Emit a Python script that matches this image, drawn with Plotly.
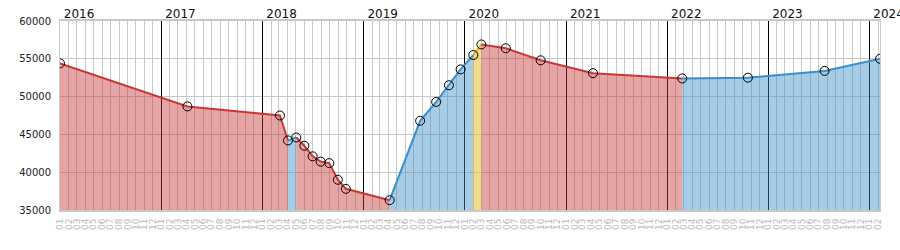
import plotly.graph_objects as go

# ---- data ----
dates = ["2016-01-01", "2017-04-05", "2018-03-05", "2018-04-03", "2018-05-03",
         "2018-06-01", "2018-07-01", "2018-07-30", "2018-08-30", "2018-09-30",
         "2018-10-29", "2019-04-05", "2019-07-24", "2019-09-20", "2019-11-05",
         "2019-12-17", "2020-02-01", "2020-03-01", "2020-05-28", "2020-10-01",
         "2021-04-08", "2022-02-24", "2022-10-19", "2023-07-23", "2024-02-08"]
values = [54400, 48700, 47500, 44200, 44600,
          43500, 42100, 41400, 41200, 39000,
          37800, 36300, 46800, 49300, 51500,
          53600, 55500, 56900, 56400, 54800,
          53100, 52400, 52500, 53400, 55000]
# trend of each interval between consecutive points
trend = ["down", "down", "down", "up", "down",
         "down", "down", "down", "down", "down",
         "down", "up", "up", "up", "up",
         "up", "peak", "down", "down", "down",
         "down", "up", "up", "up"]
year_ticks = ["2016-01-01", "2017-01-01", "2018-01-01", "2019-01-01", "2020-01-01",
              "2021-01-01", "2022-01-01", "2023-01-01", "2024-01-01"]
year_labels = ["2016", "2017", "2018", "2019", "2020", "2021", "2022", "2023", "2024"]
y_ticks = [35000, 40000, 45000, 50000, 55000, 60000]
y_labels = ["35000", "40000", "45000", "50000", "55000", "60000"]

# ---- styles ----
line_col = {"down": "#c83737", "up": "#3a8fc8", "peak": "#e8b82a"}
fill_col = {"down": "rgba(200,55,55,0.45)", "up": "rgba(58,143,200,0.45)",
            "peak": "rgba(232,190,40,0.55)"}
grid = "#c8c8c8"
font = "DejaVu Sans"

fig = go.Figure()

# group consecutive intervals with same trend
start = 0
for i in range(1, len(trend) + 1):
    if i == len(trend) or trend[i] != trend[start]:
        t = trend[start]
        fig.add_trace(go.Scatter(
            x=dates[start:i + 1], y=values[start:i + 1],
            mode="lines", fill="tozeroy",
            line=dict(color=line_col[t], width=2),
            fillcolor=fill_col[t], hoverinfo="skip", showlegend=False))
        start = i

fig.add_trace(go.Scatter(
    x=dates, y=values, mode="markers",
    marker=dict(symbol="circle-open", size=9, color="black", line=dict(width=1)),
    showlegend=False))

# invisible trace for top axis
fig.add_trace(go.Scatter(x=[dates[0], dates[-1]], y=[values[0], values[-1]],
                         xaxis="x2", mode="markers", marker=dict(opacity=0),
                         hoverinfo="skip", showlegend=False))

fig.update_layout(
    width=900, height=250,
    margin=dict(l=60, r=20, t=21, b=40),
    paper_bgcolor="white", plot_bgcolor="white",
    font=dict(family=font, size=10, color="#222"),
    xaxis=dict(
        type="date", range=[dates[0], dates[-1]],
        tick0="2016-01-01", dtick="M1", tickformat="%m",
        tickangle=-90, tickfont=dict(size=9, color="#b8b8b8"),
        showgrid=True, gridcolor=grid, gridwidth=1,
        showline=True, linecolor=grid, linewidth=2, mirror=True,
        ticks="", ticklabelstandoff=3, zeroline=False, automargin=False),
    xaxis2=dict(
        type="date", overlaying="x", matches="x", side="top",
        tickvals=year_ticks, ticktext=["\u00a0" + s for s in year_labels],
        ticklabelposition="outside right", ticklabeloverflow="allow",
        tickfont=dict(size=12, color="#111"),
        showgrid=True, gridcolor="black", gridwidth=1,
        ticks="", showline=False, zeroline=False, automargin=False),
    yaxis=dict(
        range=[35000, 60000], tickvals=y_ticks, ticktext=y_labels,
        tickfont=dict(size=10, color="#222"),
        showgrid=True, gridcolor=grid, gridwidth=1,
        showline=True, linecolor=grid, linewidth=1, mirror=True,
        ticks="", ticklabelstandoff=6, zeroline=False, automargin=False),
)

fig.write_html("out.html")
